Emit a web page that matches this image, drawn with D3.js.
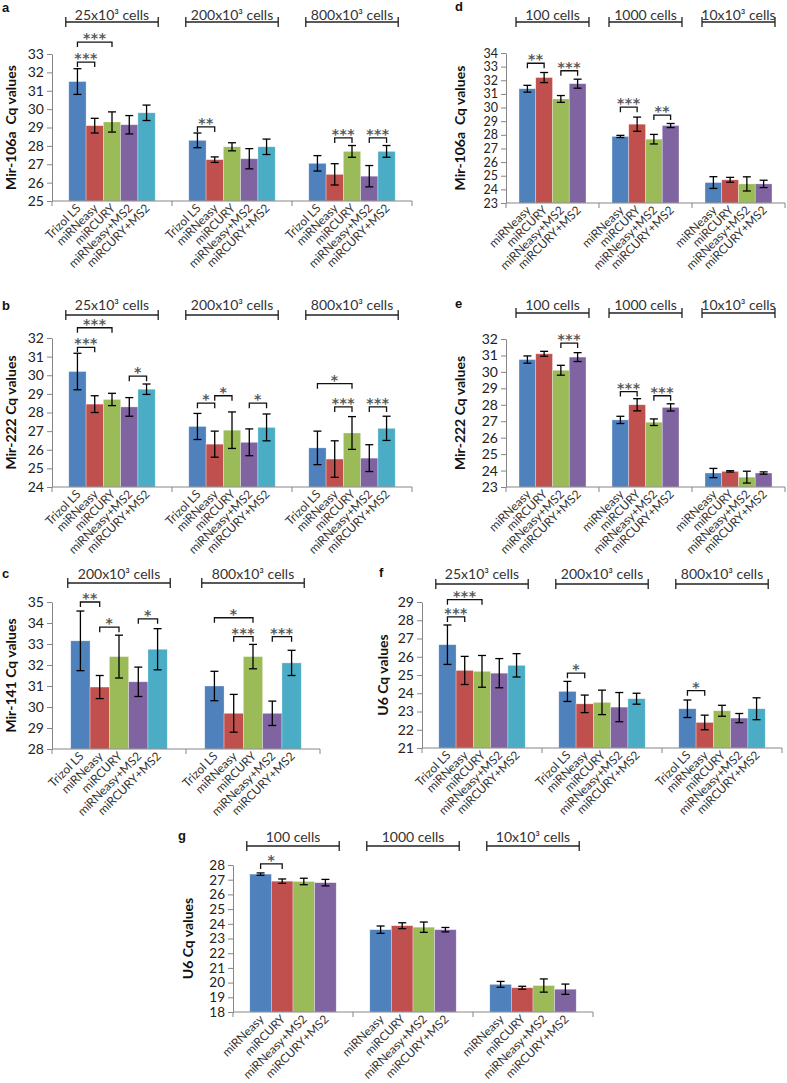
<!DOCTYPE html>
<html><head><meta charset="utf-8">
<script src="https://cdn.jsdelivr.net/npm/d3@7"></script>
<style>
body{margin:0;background:#fff;}
svg{display:block;font-family:Lato,"Open Sans",sans-serif;}
</style></head>
<body><svg id="chart" width="787" height="1083"></svg>
<script>
// ---------- categories ----------
const methods5 = ["Trizol LS","miRNeasy","miRCURY","miRNeasy+MS2","miRCURY+MS2"];
const methods4 = ["miRNeasy","miRCURY","miRNeasy+MS2","miRCURY+MS2"];
const colors5 = ["#4F81BD","#C0504D","#9BBB59","#8064A2","#4BACC6"];
const colors4 = ["#4F81BD","#C0504D","#9BBB59","#8064A2"];
const groupsHigh = ["25x10³ cells","200x10³ cells","800x10³ cells"];
const groupsC = ["200x10³ cells","800x10³ cells"];
const groupsLow = ["100 cells","1000 cells","10x10³ cells"];

// ---------- panel a : Mir-106a ----------
const aMean = [[31.5,29.1,29.3,29.15,29.8],[28.3,27.25,27.95,27.3,27.95],[27.05,26.45,27.7,26.35,27.7]];
const aErr  = [[0.7,0.4,0.55,0.5,0.42],[0.4,0.15,0.22,0.55,0.42],[0.42,0.58,0.32,0.58,0.32]];
const aSig  = [[0,0,1,32.56,"***"],[0,0,2,33.65,"***"],[1,0,1,29.03,"**"],[2,1,2,28.43,"***"],[2,3,4,28.43,"***"]];
// ---------- panel b : Mir-222 ----------
const bMean = [[30.2,28.45,28.7,28.3,29.25],[27.25,26.3,27.05,26.4,27.2],[26.1,25.5,26.9,25.55,27.15]];
const bErr  = [[0.98,0.45,0.33,0.5,0.28],[0.7,0.7,0.98,0.72,0.72],[0.9,0.98,0.88,0.72,0.65]];
const bSig  = [[0,0,1,31.5,"***"],[0,0,2,32.55,"***"],[0,3,4,29.95,"*"],[1,0,1,28.5,"*"],[1,1,2,28.9,"*"],[1,3,4,28.5,"*"],[2,0,2,29.55,"*"],[2,1,2,28.3,"***"],[2,3,4,28.3,"***"]];
// ---------- panel c : Mir-141 ----------
const cMean = [[33.15,30.95,32.4,31.2,32.75],[31.0,29.7,32.4,29.7,32.1]];
const cErr  = [[1.42,0.55,1.02,0.7,0.98],[0.7,0.9,0.58,0.58,0.6]];
const cSig  = [[0,0,1,35.0,"**"],[0,1,2,33.8,"*"],[0,3,4,34.2,"*"],[1,0,2,34.25,"*"],[1,1,2,33.35,"***"],[1,3,4,33.35,"***"]];
// ---------- panel d : Mir-106a low cell numbers ----------
const dMean = [[31.38,32.2,30.63,31.75],[27.88,28.78,27.68,28.68],[24.5,24.7,24.4,24.4]];
const dErr  = [[0.25,0.37,0.25,0.33],[0.08,0.52,0.35,0.15],[0.43,0.18,0.52,0.27]];
const dSig  = [[0,0,1,33.25,"**"],[0,2,3,32.7,"***"],[1,0,1,30.03,"***"],[1,2,3,29.45,"**"]];
// ---------- panel e : Mir-222 low cell numbers ----------
const eMean = [[30.75,31.1,30.1,30.9],[27.08,28.0,26.94,27.84],[23.85,23.95,23.6,23.85]];
const eErr  = [[0.22,0.15,0.3,0.27],[0.22,0.37,0.2,0.22],[0.28,0.04,0.36,0.07]];
const eSig  = [[0,2,3,31.75,"***"],[1,0,1,28.8,"***"],[1,2,3,28.55,"***"]];
// ---------- panel f : U6 ----------
const fMean = [[26.66,25.25,25.2,25.1,25.53],[24.1,23.42,23.5,23.24,23.7],[23.15,22.4,23.04,22.64,23.15]];
const fErr  = [[1.08,0.77,0.87,0.8,0.64],[0.55,0.48,0.67,0.8,0.3],[0.48,0.4,0.3,0.25,0.6]];
const fSig  = [[0,0,1,28.18,"***"],[0,0,2,29.13,"***"],[1,0,1,25.1,"*"],[2,0,1,24.14,"*"]];
// ---------- panel g : U6 low cell numbers ----------
const gMean = [[27.38,26.9,26.88,26.8],[23.6,23.87,23.77,23.6],[19.88,19.65,19.8,19.55]];
const gErr  = [[0.08,0.15,0.22,0.22],[0.25,0.2,0.35,0.15],[0.2,0.1,0.45,0.35]];
const gSig  = [[0,0,1,28.07,"*"]];

// ---------- layout ----------
const panels = [
 {letter:"a",lx:2,ly:12,title:"Mir-106a  Cq values",tx:16,groups:groupsHigh,methods:methods5,colors:colors5,mean:aMean,err:aErr,sig:aSig,domain:[25,33],left:52,right:412,top:54,bottom:201,hText:15,hLine:22,fs:14},
 {letter:"b",lx:2,ly:310,title:"Mir-222 Cq values",tx:16,groups:groupsHigh,methods:methods5,colors:colors5,mean:bMean,err:bErr,sig:bSig,domain:[24,32],left:52,right:412,top:338,bottom:487,hText:305,hLine:315,fs:14},
 {letter:"c",lx:2,ly:578,title:"Mir-141 Cq values",tx:16,groups:groupsC,methods:methods5,colors:colors5,mean:cMean,err:cErr,sig:cSig,domain:[28,35],left:52,right:320,top:602,bottom:749,hText:574,hLine:583,fs:14},
 {letter:"d",lx:455,ly:11,title:"Mir-106a  Cq values",tx:465,groups:groupsLow,methods:methods4,colors:colors4,mean:dMean,err:dErr,sig:dSig,domain:[23,34],left:506,right:785,top:53,bottom:203,hText:15,hLine:22,fs:12.5},
 {letter:"e",lx:455,ly:308,title:"Mir-222 Cq values",tx:465,groups:groupsLow,methods:methods4,colors:colors4,mean:eMean,err:eErr,sig:eSig,domain:[23,32],left:506,right:785,top:339,bottom:487,hText:305,hLine:313,fs:14},
 {letter:"f",lx:379,ly:577,title:"U6 Cq values",tx:388,groups:groupsHigh,methods:methods5,colors:colors5,mean:fMean,err:fErr,sig:fSig,domain:[21,29],left:422,right:782,top:602,bottom:748,hText:574,hLine:584,fs:14},
 {letter:"g",lx:178,ly:840,title:"U6 Cq values",tx:193,groups:groupsLow,methods:methods4,colors:colors4,mean:gMean,err:gErr,sig:gSig,domain:[18,28],left:233,right:593,top:865,bottom:1012,hText:837,hLine:846,fs:13.5}
];

const svg = d3.select("#chart");
svg.append("rect").attr("width",787).attr("height",1083).attr("fill","#fff");
const AX = "#868686";

function drawPanel(p){
  const g = svg.append("g");
  const x0 = d3.scaleBand().domain(p.groups).range([p.left,p.right]).padding(0);
  const bw = x0.bandwidth();
  const pad = bw*0.14;
  const x1 = d3.scaleBand().domain(p.methods).range([pad,bw-pad]).padding(0);
  const y = d3.scaleLinear().domain(p.domain).range([p.bottom,p.top]);

  p.groups.forEach((grp,gi)=>{
    const gg = g.append("g").attr("transform",`translate(${x0(grp)},0)`);
    gg.selectAll("rect").data(p.methods).join("rect")
      .attr("x",m=>x1(m)).attr("width",x1.bandwidth())
      .attr("y",(m,i)=>y(p.mean[gi][i])).attr("height",(m,i)=>y(p.domain[0])-y(p.mean[gi][i]))
      .attr("fill",(m,i)=>p.colors[i]).attr("stroke","#ffffff").attr("stroke-opacity",0.5).attr("stroke-width",0.6);
    const eb = gg.selectAll("g.eb").data(p.methods).join("g").attr("class","eb");
    const cx = m=>x1(m)+x1.bandwidth()/2;
    eb.append("line").attr("x1",cx).attr("x2",cx)
      .attr("y1",(m,i)=>y(p.mean[gi][i]-p.err[gi][i])).attr("y2",(m,i)=>y(p.mean[gi][i]+p.err[gi][i]))
      .attr("stroke","#000").attr("stroke-width",1.3);
    [-1,1].forEach(s=>{
      eb.append("line").attr("x1",m=>cx(m)-4).attr("x2",m=>cx(m)+4)
        .attr("y1",(m,i)=>y(p.mean[gi][i]+s*p.err[gi][i])).attr("y2",(m,i)=>y(p.mean[gi][i]+s*p.err[gi][i]))
        .attr("stroke","#000").attr("stroke-width",1.3);
    });
    gg.selectAll("text.xl").data(p.methods).join("text").attr("class","xl")
      .attr("transform",m=>`translate(${cx(m)+1},${p.bottom+5}) rotate(-45)`)
      .attr("text-anchor","end").attr("dy","0.35em")
      .attr("font-size",12).attr("fill","#333").text(m=>m);
    const hx0 = x1.range()[0]-3, hx1 = x1.range()[1]+3;
    gg.append("line").attr("x1",hx0).attr("x2",hx1).attr("y1",p.hLine).attr("y2",p.hLine).attr("stroke","#222").attr("stroke-width",1.3);
    [hx0,hx1].forEach(xx=>gg.append("line").attr("x1",xx).attr("x2",xx).attr("y1",p.hLine-5).attr("y2",p.hLine+5).attr("stroke","#222").attr("stroke-width",1.3));
    gg.append("text").attr("x",(hx0+hx1)/2).attr("y",p.hText).attr("dy","0.35em").attr("text-anchor","middle")
      .attr("font-size",14).attr("fill","#333").text(grp);
  });

  p.sig.forEach(([gi,a,b,v,t])=>{
    const grp = p.groups[gi];
    const xa = x0(grp)+x1(p.methods[a])+x1.bandwidth()/2;
    const xb = x0(grp)+x1(p.methods[b])+x1.bandwidth()/2;
    const yy = y(v);
    g.append("path").attr("d",`M${xa},${yy+5}V${yy}H${xb}V${yy+5}`).attr("fill","none").attr("stroke","#111").attr("stroke-width",1.3);
    g.append("text").attr("x",(xa+xb)/2).attr("y",yy+1).attr("text-anchor","middle")
      .attr("font-family","DejaVu Sans,sans-serif").attr("font-size",14).attr("font-weight","bold")
      .attr("letter-spacing",0.5).attr("fill","#5a5a5a").text(t);
  });

  const ticks = d3.range(p.domain[0],p.domain[1]+1);
  const ya = g.append("g").attr("transform",`translate(${p.left},0)`)
    .call(d3.axisLeft(y).tickValues(ticks).tickFormat(d3.format("d")).tickSize(5).tickSizeOuter(0).tickPadding(3));
  ya.select(".domain").attr("stroke",AX);
  ya.selectAll(".tick line").attr("stroke",AX);
  ya.selectAll(".tick text").attr("font-size",p.fs).attr("fill","#222").attr("font-family","Lato,sans-serif");

  g.append("line").attr("x1",p.left).attr("x2",p.right).attr("y1",p.bottom).attr("y2",p.bottom).attr("stroke",AX);
  const edges = p.groups.map(d=>x0(d)).concat([p.right]);
  g.selectAll("line.xt").data(edges).join("line").attr("class","xt")
    .attr("x1",d=>d).attr("x2",d=>d).attr("y1",p.bottom).attr("y2",p.bottom+5).attr("stroke",AX);

  g.append("text").attr("transform",`translate(${p.tx},${(p.top+p.bottom)/2}) rotate(-90)`)
    .attr("text-anchor","middle").attr("font-size",14).attr("font-weight","bold").attr("fill","#111")
    .style("white-space","pre").text(p.title);
  g.append("text").attr("x",p.lx).attr("y",p.ly).attr("font-size",13).attr("font-weight","bold")
    .attr("font-family","Liberation Sans,Arial,sans-serif").attr("fill","#111").text(p.letter);
}
panels.forEach(drawPanel);
</script></body></html>
